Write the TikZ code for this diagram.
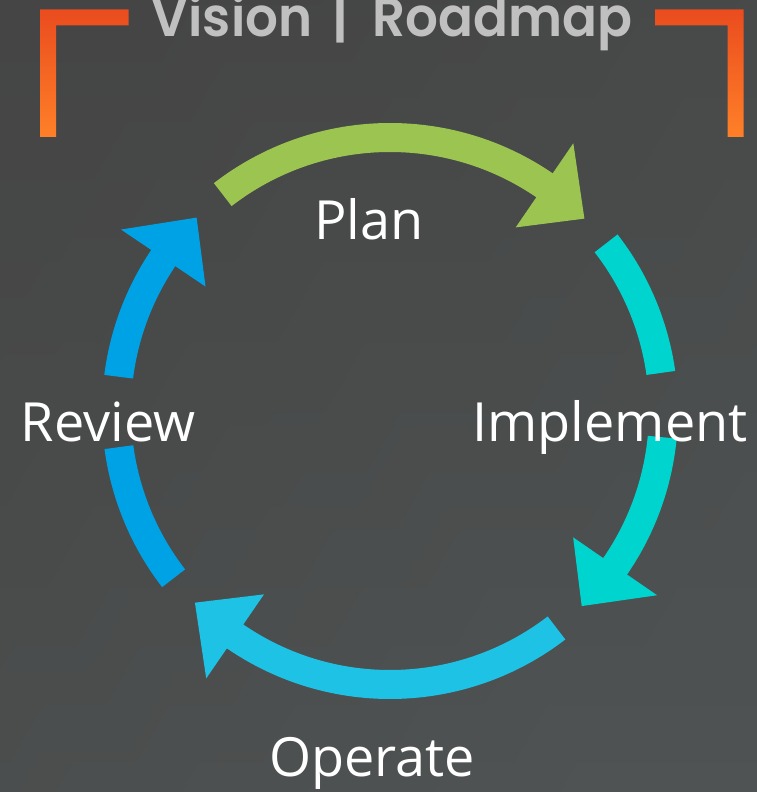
\documentclass[tikz,border=0pt]{standalone}
\usepackage{fontspec}
\setmainfont{Open Sans}
\newfontfamily\titlefont{Poppins}[UprightFont=* SemiBold, BoldFont=* SemiBold]
\definecolor{bgA}{RGB}{69,69,69}
\definecolor{bgB}{RGB}{79,83,83}
\definecolor{planc}{RGB}{155,197,80}
\definecolor{implc}{RGB}{0,212,206}
\definecolor{operc}{RGB}{30,194,229}
\definecolor{revc}{RGB}{0,162,230}
\definecolor{titlec}{RGB}{192,192,192}
\definecolor{brTop}{RGB}{234,76,30}
\definecolor{brBot}{RGB}{255,128,40}
\tikzset{
  lbl/.style={text=white, inner sep=0pt, anchor=base, font=\fontsize{54}{60}\selectfont},
  bracket/.style={top color=brTop, bottom color=brBot, draw=none},
}
% shaft: color, start angle, end angle (radius 273.5, half width 14.5)
\newcommand{\myshaft}[3]{%
  \fill[#1] (#2:288) arc[start angle=#2, end angle=#3, radius=288]
    -- (#3:259) arc[start angle=#3, end angle=#2, radius=259] -- cycle;}
% head: color, base angle, tip angle
\newcommand{\myhead}[3]{%
  \fill[#1] (#2:324.5) -- (#3:273.5) -- (#2:222.5) -- cycle;}
\begin{document}
\begin{tikzpicture}[x=1pt,y=1pt]
\useasboundingbox (0,0) rectangle (757,792);
\shade[left color=bgA, right color=bgB, shading angle=60] (0,0) rectangle (757,792);
\shade[top color=bgA!97!bgB, bottom color=bgB, opacity=0.5] (0,0) rectangle (757,792);
% brackets
\shade[bracket] (40,782.5) -- (128.5,782.5) -- (128.5,766.5) -- (56,766.5) -- (56,655) -- (40,655) -- cycle;
\shade[bracket] (655,782.5) -- (743.5,782.5) -- (743.5,655) -- (727.5,655) -- (727.5,766.5) -- (655,766.5) -- cycle;
% title
\node[inner sep=0pt, anchor=base, text=titlec] (title) at (392,755.3)
  {\resizebox{480pt}{44pt}{\titlefont Vision\hspace{0.4em}|\hspace{0.45em}Roadmap}};
% cycle arrows
\begin{scope}[shift={(390,381)}]
  \myshaft{planc}{127.7}{55}
  \myhead{planc}{55.6}{44.7}
  \myshaft{implc}{37.8}{8}
  \myshaft{implc}{-5.5}{-35.2}
  \myhead{implc}{-34.6}{-45.5}
  \myshaft{operc}{-52.5}{-125}
  \myhead{operc}{-124.5}{-135.5}
  \myshaft{revc}{217.7}{187.6}
  \myshaft{revc}{172.8}{145.5}
  \myhead{revc}{146}{135}
\end{scope}
% labels
\node[lbl] (plan) at (369,552) {Plan};
\node[lbl] (impl) at (610,350) {Implement};
\node[lbl] (oper) at (372,15) {Operate};
\node[lbl] (rev) at (108,350) {Review};
\end{tikzpicture}
\end{document}
